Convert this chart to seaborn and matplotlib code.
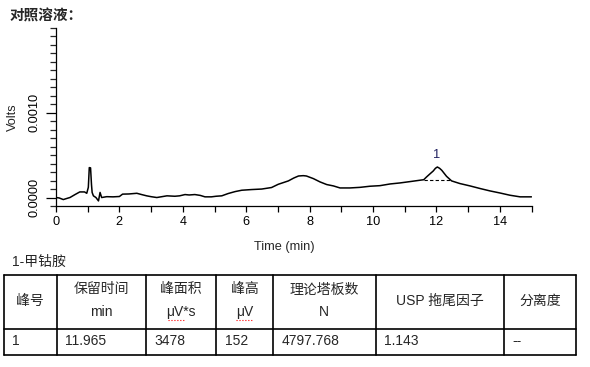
import numpy as np
import pandas as pd
import matplotlib
matplotlib.use('Agg')
import matplotlib.pyplot as plt
from matplotlib.lines import Line2D
import seaborn as sns

sns.set_style('ticks')
plt.rcParams['font.family'] = ['Liberation Sans', 'Noto Sans CJK SC', 'DejaVu Sans']

# chromatogram trace (min, microvolts)
time_min = [0.0, 0.1, 0.23, 0.35, 0.44, 0.6, 0.75, 0.9, 0.97, 1.02, 1.05, 1.09, 1.12, 1.14,
            1.18, 1.26, 1.34, 1.39, 1.44, 1.6, 1.8, 2.0, 2.1, 2.3, 2.55, 2.7, 2.86, 3.0,
            3.18, 3.5, 3.75, 3.9, 4.07, 4.2, 4.38, 4.55, 4.7, 4.9, 5.05, 5.23, 5.43, 5.65,
            5.86, 6.17, 6.49, 6.8, 7.01, 7.33, 7.5, 7.65, 7.8, 7.9, 8.12, 8.33, 8.54, 8.75,
            8.96, 9.27, 9.59, 9.9, 10.22, 10.54, 10.85, 11.17, 11.48, 11.6, 11.69, 11.8,
            11.9, 11.97, 12.03, 12.1, 12.17, 12.32, 12.48, 12.74, 13.06, 13.38, 13.69,
            14.0, 14.32, 14.64, 15.0]
signal_uv = [0, -5, -24, -10, 0, 35, 66, 66, 50, 120, 353, 350, 150, 60,
             20, 0, -40, 60, 0, 10, 8, 12, 40, 42, 50, 35, 20, 10,
             0, 20, 15, 20, 35, 30, 35, 25, 8, 8, 15, 20, 47, 70,
             86, 94, 100, 118, 156, 196, 230, 254, 258, 254, 223, 184, 153, 137,
             113, 113, 120, 133, 140, 160, 172, 188, 204, 210, 243, 280,
             313, 345, 360, 345, 321, 250, 196, 165, 137, 106, 78,
             54, 27, 8, 8]

# integration baseline under peak 1
base_time = [11.6, 12.42]
base_uv = [212, 212]
peak_label = '1'
peak_time = 12.0
peak_label_uv = 500

title = '对照溶液：'
table_caption = '1-甲钴胺'
header_top = ['峰号', '保留时间', '峰面积', '峰高', '理论塔板数', 'USP 拖尾因子', '分离度']
header_unit = ['', 'min', 'μV*s', 'μV', 'N', '', '']
row_values = ['1', '11.965', '3478', '152', '4797.768', '1.143', '--']

df = pd.DataFrame({'Time': time_min, 'Volts': np.array(signal_uv) / 1e6})

fig = plt.figure(figsize=(5.9, 3.67), dpi=100)
W, H = 590, 367
ax = fig.add_axes([56 / W, 1 - 206 / H, (531.5 - 56) / W, (206 - 28) / H])

sns.lineplot(data=df, x='Time', y='Volts', ax=ax, color='black', linewidth=1.1)
ax.plot(base_time, np.array(base_uv) / 1e6, color='black', linestyle=(0, (3, 2)), linewidth=0.8)
ax.text(peak_time, peak_label_uv / 1e6, peak_label, ha='center', va='center',
        fontsize=9.2, color='#1f1f5f')

ax.set_xlim(0, 15)
ax.set_ylim(-0.0001, 0.0020)
ax.set_xticks(np.arange(0, 15, 2))
ax.set_xticks(np.arange(1, 16, 2), minor=True)
ax.set_yticks([0.0, 0.001])
ax.set_yticks(np.arange(-0.0001, 0.00201, 0.0001), minor=True)
ax.set_yticklabels(['0.0000', '0.0010'], rotation=90, va='center')
ax.tick_params(axis='x', which='both', length=4, width=0.9, pad=3, labelsize=9.2, colors='black')
ax.tick_params(axis='y', which='major', length=7, width=0.9, pad=4, labelsize=9.2, colors='black')
ax.tick_params(axis='y', which='minor', length=4, width=0.9)
for s in ['top', 'right']:
    ax.spines[s].set_visible(False)
for s in ['left', 'bottom']:
    ax.spines[s].set_linewidth(0.9)
    ax.spines[s].set_color('black')
ax.set_xlabel('Time (min)', fontsize=9.2, labelpad=3)
ax.xaxis.set_label_coords((284.5 - 56) / (531.5 - 56), -(241 - 206) / (206 - 28))
ax.set_ylabel('Volts', fontsize=9.2)
ax.yaxis.set_label_coords(-(56 - 19) / (531.5 - 56), 0.5)
ax.grid(False)

# title and table, laid out in pixel coordinates
tx = fig.add_axes([0, 0, 1, 1], facecolor='none')
tx.set_xlim(0, W)
tx.set_ylim(H, 0)
tx.axis('off')

tx.text(10, 16, title, fontsize=10.5, fontweight='bold', va='center', ha='left')
tx.text(12, 262, table_caption, fontsize=10, va='center', ha='left')

col_edges = [3.5, 56.7, 145.7, 216.3, 273, 375.7, 504.3, 575.7]
row_edges = [275, 329.3, 355.3]
for y in row_edges:
    tx.add_line(Line2D([col_edges[0], col_edges[-1]], [y, y], color='black', lw=1.2))
for x in col_edges:
    tx.add_line(Line2D([x, x], [row_edges[0], row_edges[-1]], color='black', lw=1.2))

for i in range(len(header_top)):
    cx = (col_edges[i] + col_edges[i + 1]) / 2
    if header_unit[i]:
        tx.text(cx, 289.5, header_top[i], fontsize=10, ha='center', va='center')
        tx.text(cx, 312, header_unit[i], fontsize=10, ha='center', va='center')
    else:
        tx.text(cx, 301, header_top[i], fontsize=10, ha='center', va='center')
    tx.text(col_edges[i] + 8.5, 341, row_values[i], fontsize=10, ha='left', va='center')

# spell-check squiggles under the unit text
tx.add_line(Line2D([167.5, 183.5], [319.5, 319.5], color='red', lw=0.8, ls=':'))
tx.add_line(Line2D([236, 252.5], [319.5, 319.5], color='red', lw=0.8, ls=':'))

fig.savefig('out.png', dpi=100)
